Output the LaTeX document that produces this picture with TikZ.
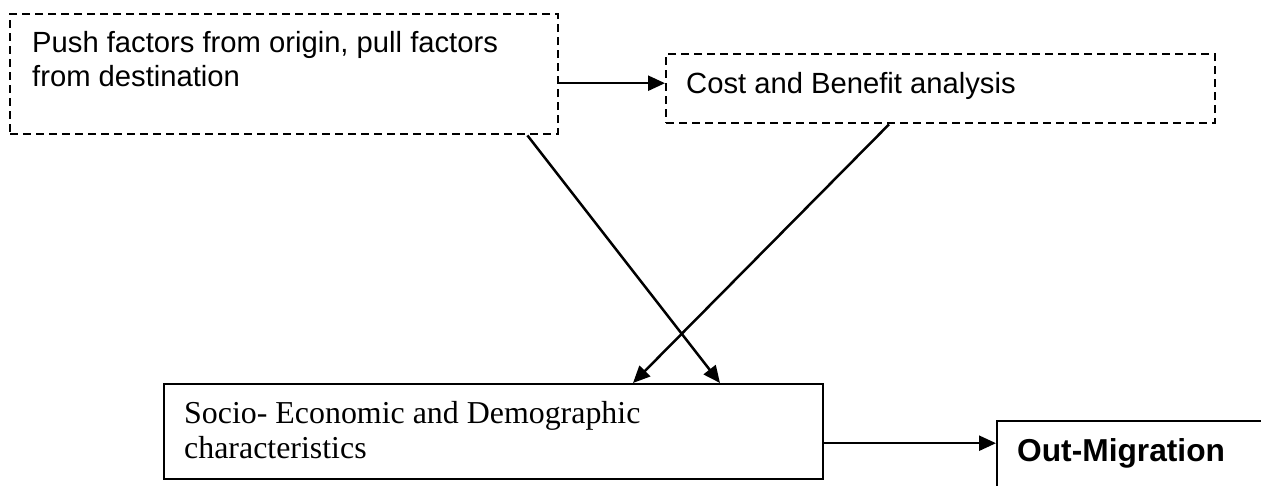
\documentclass[tikz,border=0pt]{standalone}
\usepackage{fontspec}
\setmainfont{Liberation Serif}
\newfontfamily\arialf{Liberation Sans}
\newfontfamily\tnrf{Liberation Serif}
\usetikzlibrary{arrows.meta}
\begin{document}
\begin{tikzpicture}[x=1pt,y=-1pt,
  boxbase/.style={draw,line width=2.4pt,inner sep=0pt,anchor=north west},
  dbox/.style={boxbase,dash pattern=on 8pt off 5pt},
  sbox/.style={boxbase},
  arr/.style={line width=2.5pt,-{Triangle[length=17pt,width=15pt]}},
  sanstext/.style={anchor=base west,inner sep=0pt,font=\arialf\fontsize{29.2}{33}\selectfont},
  serftext/.style={anchor=base west,inner sep=0pt,font=\tnrf\fontsize{31.9}{35}\selectfont},
  boldtext/.style={anchor=base west,inner sep=0pt,font=\arialf\bfseries\fontsize{31.7}{36}\selectfont}]
\useasboundingbox (0,0) rectangle (1261,486);
\clip (0,0) rectangle (1261,486);
\fill[white] (0,0) rectangle (1261,486);
% boxes
\node[dbox,minimum width=548pt,minimum height=120pt] (b1) at (9,13) {};
\node[dbox,minimum width=549pt,minimum height=69pt] (b2) at (665,53) {};
\node[sbox,minimum width=659pt,minimum height=95pt] (b3) at (163,383) {};
\node[sbox,minimum width=330pt,minimum height=120pt] (om) at (996,420) {};
% texts
\node[sanstext] (t1a) at (32,53) {Push factors from origin, pull factors};
\node[sanstext] (t1b) at (32,87) {from destination};
\node[sanstext] (t2) at (686,94) {Cost and Benefit analysis};
\node[serftext] (t3a) at (184,423) {Socio- Economic and Demographic};
\node[serftext] (t3b) at (184,458) {characteristics};
\node[boldtext] (t4) at (1017,461) {Out-Migration};
% connectors
\coordinate (p1) at ([yshift=-9pt]b1.east);
\draw[arr] (p1) -- (p1 -| b2.west);
\draw[arr] ([xshift=-32pt]b1.south east) -- ([xshift=557pt]b3.north west);
\draw[arr] ([xshift=224pt]b2.south west) -- ([xshift=470pt]b3.north west);
\coordinate (p3) at ([yshift=-11.5pt]b3.east);
\draw[arr] (p3) -- (p3 -| om.west);
\end{tikzpicture}
\end{document}
